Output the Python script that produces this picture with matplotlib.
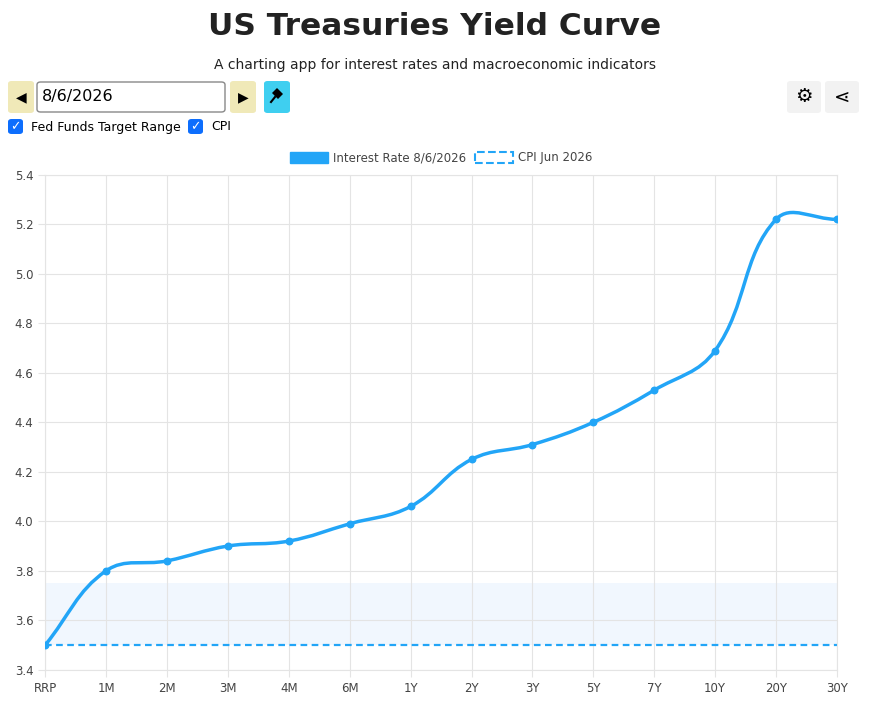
import numpy as np
import matplotlib.pyplot as plt
from matplotlib.patches import FancyBboxPatch, Rectangle, Polygon
from matplotlib.path import Path
from matplotlib.patches import PathPatch

tenors = ['RRP', '1M', '2M', '3M', '4M', '6M', '1Y', '2Y', '3Y', '5Y', '7Y', '10Y', '20Y', '30Y']
rates = [3.50, 3.80, 3.84, 3.90, 3.92, 3.99, 4.06, 4.25, 4.31, 4.40, 4.53, 4.69, 5.22, 5.22]
cpi = 3.50
fed_low, fed_high = 3.50, 3.75

BLUE = '#22a5f7'
XPX = 792 / 13   # pixels per category step
YPX = 495 / 2.0  # pixels per rate unit


def spline_path(x, y, tension=0.4):
    # chart.js style bezier spline, control points worked out in pixel space
    p = np.column_stack([np.asarray(x, float) * XPX, np.asarray(y, float) * YPX])
    n = len(p)
    c1 = np.zeros_like(p)
    c2 = np.zeros_like(p)
    for i in range(n):
        p0 = p[max(i - 1, 0)]
        p1 = p[i]
        p2 = p[min(i + 1, n - 1)]
        d01 = np.hypot(*(p1 - p0))
        d12 = np.hypot(*(p2 - p1))
        tot = d01 + d12
        s01 = d01 / tot if tot else 0
        s12 = d12 / tot if tot else 0
        c1[i] = p1 - tension * s01 * (p2 - p0)
        c2[i] = p1 + tension * s12 * (p2 - p0)
    verts = [p[0]]
    codes = [Path.MOVETO]
    for i in range(n - 1):
        verts += [c2[i], c1[i + 1], p[i + 1]]
        codes += [Path.CURVE4] * 3
    verts = np.array(verts)
    verts[:, 0] /= XPX
    verts[:, 1] /= YPX
    return Path(verts, codes)


fig = plt.figure(figsize=(8.7, 7.05), dpi=100)
ax = fig.add_axes([0.052, 0.050, 0.910, 0.702])

x = np.arange(len(tenors))
ax.axhspan(fed_low, fed_high, color='#eef5fe', alpha=0.8, lw=0, zorder=0)
ax.axhline(cpi, color=BLUE, ls=(0, (3, 2)), lw=1.6, zorder=2)
ax.add_patch(PathPatch(spline_path(x, rates), fc='none', ec=BLUE, lw=2.5, zorder=3))
ax.scatter(x, rates, color=BLUE, s=22, zorder=4)

ax.set_xlim(0, len(tenors) - 1)
ax.set_ylim(3.4, 5.4)
ax.set_xticks(x)
ax.set_xticklabels(tenors)
ax.set_yticks(np.arange(3.4, 5.41, 0.2))
ax.set_yticklabels([f'{v:.1f}' for v in np.arange(3.4, 5.41, 0.2)])
ax.grid(color='#e4e4e4', lw=0.8)
ax.set_axisbelow(True)
for s in ax.spines.values():
    s.set_color('#e4e4e4')
ax.tick_params(colors='#444444', labelsize=8.5, length=5, color='#e4e4e4')
for lab in ax.get_xticklabels() + ax.get_yticklabels():
    lab.set_color('#444444')

# legend
h1 = Rectangle((0, 0), 1, 1, fc=BLUE, ec=BLUE)
h2 = Rectangle((0, 0), 1, 1, fc='white', ec=BLUE, ls='--', lw=1.5)
ax.legend([h1, h2], ['Interest Rate 8/6/2026', 'CPI Jun 2026'], loc='lower center',
          bbox_to_anchor=(0.5, 1.0), ncol=2, frameon=False, fontsize=8.5,
          handlelength=3.2, handleheight=1.1, columnspacing=0.8, handletextpad=0.4,
          labelcolor='#444444')

# page header
fig.text(0.5, 0.962, 'US Treasuries Yield Curve', ha='center', va='center',
         fontsize=22.5, fontweight='bold', color='#222222')
fig.text(0.5, 0.908, 'A charting app for interest rates and macroeconomic indicators',
         ha='center', va='center', fontsize=10, color='#222222')


def box(x0, y0, w, h, fc, ec='none'):
    fig.patches.append(FancyBboxPatch((x0 / 870, 1 - (y0 + h) / 705), w / 870, h / 705,
                                      boxstyle='round,pad=0,rounding_size=0.004',
                                      fc=fc, ec=ec, lw=1, transform=fig.transFigure))


def fx(px):
    return px / 870


def fy(py):
    return 1 - py / 705


box(8, 81, 26, 32, '#f0e9b8')
fig.text(fx(21), fy(97), '◀', ha='center', va='center', fontsize=10)
box(37, 82, 188, 30, 'white', '#888888')
fig.text(fx(42), fy(97), '8/6/2026', va='center', fontsize=11.5)
box(230, 81, 26, 32, '#f0e9b8')
fig.text(fx(243), fy(97), '▶', ha='center', va='center', fontsize=10)
box(264, 81, 26, 32, '#3fcff0')
# pin icon as a small shape
pin = Polygon([(fx(272), fy(93)), (fx(277), fy(88)), (fx(283), fy(94)), (fx(278), fy(99))],
              closed=True, fc='black', transform=fig.transFigure)
fig.patches.append(pin)
fig.lines.append(plt.Line2D([fx(275), fx(271)], [fy(97), fy(102)], color='black', lw=1.5,
                            transform=fig.transFigure))
box(787, 81, 34, 32, '#f2f2f2')
fig.text(fx(804), fy(97), '⚙', ha='center', va='center', fontsize=14)
box(825, 81, 34, 32, '#f2f2f2')
fig.text(fx(842), fy(97), '⋖', ha='center', va='center', fontsize=14)

box(8, 119, 15, 15, '#0d6efd')
fig.text(fx(15.5), fy(126.5), '✓', ha='center', va='center', fontsize=9, color='white')
fig.text(fx(31), fy(127), 'Fed Funds Target Range', va='center', fontsize=9)
box(188, 119, 15, 15, '#0d6efd')
fig.text(fx(195.5), fy(126.5), '✓', ha='center', va='center', fontsize=9, color='white')
fig.text(fx(211), fy(127), 'CPI', va='center', fontsize=9)

fig.savefig('out.png', dpi=100)
